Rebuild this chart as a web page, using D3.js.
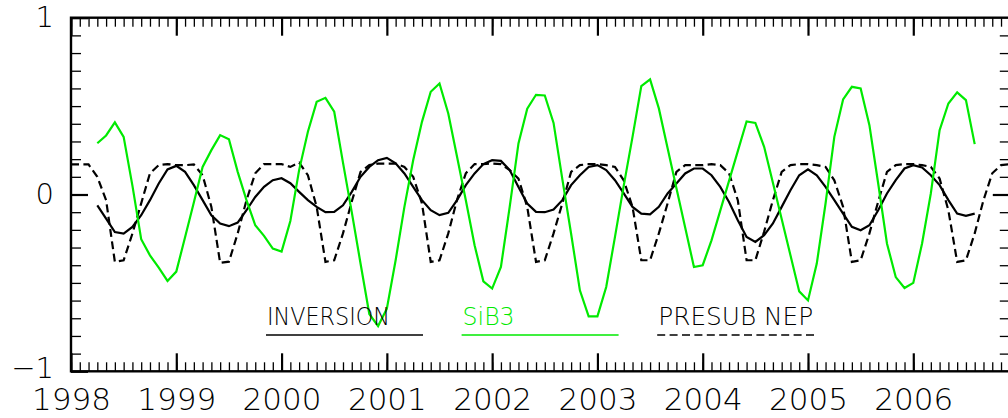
<!DOCTYPE html>
<html>
<head>
<meta charset="utf-8">
<script src="https://cdn.jsdelivr.net/npm/d3@7"></script>
<style>
  body { margin: 0; background: #fff; }
  text { font-family: "DejaVu Sans", sans-serif; font-weight: 200; }
</style>
</head>
<body>
<div id="main"></div>
<script>
// monthly values, index 0 = Jan 1998
const START_YEAR = 1998;
const inversionStart = 3;
const sib3Start = 3;
const presubStart = 0;

const inversion = [
  -0.061, -0.136, -0.212, -0.221, -0.183, -0.117, -0.032, 0.062, 0.142,
  0.162, 0.128, 0.053, -0.032, -0.117, -0.164, -0.179, -0.159, -0.089, -0.014, 0.043, 0.081,
  0.092, 0.064, 0.015, -0.032, -0.070, -0.100, -0.098, -0.061, 0.015, 0.100, 0.156, 0.194,
  0.207, 0.176, 0.119, 0.043, -0.032, -0.089, -0.117, -0.104, -0.032, 0.053, 0.119, 0.172,
  0.194, 0.190, 0.138, 0.043, -0.051, -0.098, -0.100, -0.085, -0.032, 0.053, 0.109, 0.156,
  0.166, 0.138, 0.081, 0.006, -0.070, -0.108, -0.112, -0.070, 0.006, 0.062, 0.119, 0.147,
  0.147, 0.109, 0.043, -0.042, -0.146, -0.240, -0.268, -0.230, -0.164, -0.070, 0.024, 0.109,
  0.142, 0.109, 0.043, -0.032, -0.108, -0.183, -0.202, -0.174, -0.089, 0.006, 0.081, 0.147,
  0.166, 0.153, 0.109, 0.053, -0.032, -0.108, -0.121, -0.108
];

const sib3 = [
  0.290, 0.334, 0.408, 0.326, 0.050, -0.253, -0.344, -0.414, -0.489,
  -0.436, -0.242, -0.045, 0.156, 0.251, 0.336, 0.313, 0.128, -0.032, -0.174, -0.234, -0.306,
  -0.323, -0.150, 0.138, 0.355, 0.524, 0.547, 0.468, 0.180, -0.100, -0.390, -0.676, -0.744,
  -0.646, -0.372, -0.070, 0.194, 0.411, 0.581, 0.628, 0.458, 0.213, -0.032, -0.287, -0.491,
  -0.532, -0.410, -0.070, 0.289, 0.485, 0.564, 0.560, 0.405, 0.087, -0.222, -0.542, -0.689,
  -0.689, -0.523, -0.240, 0.050, 0.326, 0.613, 0.651, 0.487, 0.262, 0.037, -0.187, -0.410,
  -0.400, -0.259, -0.091, 0.077, 0.245, 0.413, 0.405, 0.270, 0.066, -0.138, -0.344, -0.548,
  -0.599, -0.391, -0.051, 0.326, 0.538, 0.609, 0.600, 0.392, 0.062, -0.277, -0.467, -0.529,
  -0.500, -0.277, 0.006, 0.364, 0.515, 0.578, 0.534, 0.285
];

const presubNep = [
  0.170, 0.170, 0.170, 0.100, -0.032, -0.381, -0.372, -0.221, -0.050, 0.120, 0.166, 0.172,
  0.166, 0.166, 0.170, 0.109, -0.070, -0.387, -0.380, -0.220, -0.032, 0.120, 0.172, 0.172,
  0.172, 0.156, 0.180, 0.109, -0.070, -0.381, -0.372, -0.220, -0.040, 0.128, 0.166, 0.175,
  0.175, 0.175, 0.156, 0.100, -0.050, -0.381, -0.372, -0.220, -0.030, 0.120, 0.172, 0.172,
  0.175, 0.172, 0.138, 0.090, -0.070, -0.381, -0.372, -0.220, -0.050, 0.128, 0.166, 0.172,
  0.172, 0.166, 0.156, 0.080, -0.070, -0.372, -0.372, -0.220, -0.050, 0.128, 0.166, 0.166,
  0.166, 0.172, 0.166, 0.120, -0.032, -0.372, -0.372, -0.210, -0.032, 0.128, 0.166, 0.172,
  0.172, 0.166, 0.156, 0.080, -0.070, -0.381, -0.372, -0.220, -0.040, 0.128, 0.166, 0.172,
  0.172, 0.166, 0.156, 0.090, -0.090, -0.381, -0.372, -0.220, -0.032, 0.120, 0.166, 0.172
];

const yearLabels = ['1998', '1999', '2000', '2001', '2002', '2003', '2004', '2005', '2006'];
const yLabels = [-1, 0, 1];
const legendNames = ['INVERSION', 'SiB3', 'PRESUB NEP'];

const width = 1008, height = 418;
const margin = { top: 17.7, left: 71, bottom: 418 - 371.3, right: 1008 - 1009.8 };

const svg = d3.select('#main').append('svg')
  .attr('width', width)
  .attr('height', height);

const x = d3.scaleLinear()
  .domain([START_YEAR, 2006 + 11 / 12])
  .range([margin.left, width - margin.right]);
const y = d3.scaleLinear()
  .domain([-1, 1])
  .range([height - margin.bottom, margin.top]);

const toPoints = (vals, start) => vals.map((v, i) => [START_YEAR + (start + i) / 12, v]);

const monthTicks = d3.range(0, 108).map(m => START_YEAR + m / 12).filter(t => t <= x.domain()[1] + 1e-6);
const yearTicks = yearLabels.map(Number);
const yMinor = d3.range(-9, 10).map(i => i / 10).filter(v => v !== 0);

svg.append('clipPath').attr('id', 'plot')
  .append('rect')
  .attr('x', x.range()[0]).attr('y', y.range()[1])
  .attr('width', x.range()[1] - x.range()[0])
  .attr('height', y.range()[0] - y.range()[1]);

function styleTicks(g, w) {
  g.select('.domain').remove();
  g.selectAll('line').attr('stroke', '#000').attr('stroke-width', w);
}

// bottom ticks
svg.append('g').attr('transform', `translate(0,${y(-1)})`)
  .call(d3.axisTop(x).tickValues(monthTicks).tickSize(9).tickFormat(''))
  .call(g => styleTicks(g, 1.3));
svg.append('g').attr('transform', `translate(0,${y(-1)})`)
  .call(d3.axisBottom(x).tickValues(yearTicks).tickSize(-18).tickPadding(17).tickFormat(d3.format('d')))
  .call(g => styleTicks(g, 2.2))
  .call(g => g.selectAll('text').attr('font-size', 31).attr('fill', '#000')
    .attr('font-family', '"DejaVu Sans", sans-serif'));

// top ticks
svg.append('g').attr('transform', `translate(0,${y(1)})`)
  .call(d3.axisBottom(x).tickValues(monthTicks).tickSize(9).tickFormat(''))
  .call(g => styleTicks(g, 1.3));
svg.append('g').attr('transform', `translate(0,${y(1)})`)
  .call(d3.axisBottom(x).tickValues(yearTicks).tickSize(18).tickFormat(''))
  .call(g => styleTicks(g, 2.2));

// left ticks
svg.append('g').attr('transform', `translate(${x.range()[0]},0)`)
  .call(d3.axisRight(y).tickValues(yMinor).tickSize(10).tickFormat(''))
  .call(g => styleTicks(g, 1.3));
svg.append('g').attr('transform', `translate(${x.range()[0]},0)`)
  .call(d3.axisLeft(y).tickValues(yLabels).tickSize(-17).tickPadding(17)
    .tickFormat(d => d < 0 ? '\u2212' + Math.abs(d) : String(d)))
  .call(g => styleTicks(g, 2.2))
  .call(g => g.selectAll('text').attr('font-size', 29).attr('fill', '#000')
    .attr('font-family', '"DejaVu Sans", sans-serif')
    .attr('dy', d => d < 0 ? '0.22em' : '0.32em'));

// right ticks
svg.append('g').attr('transform', `translate(${x.range()[1]},0)`)
  .call(d3.axisLeft(y).tickValues(yMinor).tickSize(10).tickFormat(''))
  .call(g => styleTicks(g, 1.3));
svg.append('g').attr('transform', `translate(${x.range()[1]},0)`)
  .call(d3.axisLeft(y).tickValues([0]).tickSize(17).tickFormat(''))
  .call(g => styleTicks(g, 2.2));

// frame
svg.append('rect')
  .attr('x', x.range()[0]).attr('y', y.range()[1])
  .attr('width', x.range()[1] - x.range()[0])
  .attr('height', y.range()[0] - y.range()[1])
  .attr('fill', 'none').attr('stroke', '#000').attr('stroke-width', 2.4);

const line = d3.line().x(d => x(d[0])).y(d => y(d[1]));

const series = [
  { name: legendNames[0], pts: toPoints(inversion, inversionStart), color: '#000', dash: null, textLen: 123 },
  { name: legendNames[1], pts: toPoints(sib3, sib3Start), color: '#00ea00', dash: null, textLen: 52 },
  { name: legendNames[2], pts: toPoints(presubNep, presubStart), color: '#000', dash: '8,4.4', textLen: 155 }
];

const plot = svg.append('g').attr('clip-path', 'url(#plot)');
plot.selectAll('path.series')
  .data([series[2], series[0], series[1]])
  .enter().append('path')
  .attr('class', 'series')
  .attr('d', d => line(d.pts))
  .attr('fill', 'none')
  .attr('stroke', d => d.color)
  .attr('stroke-width', 2.2)
  .attr('stroke-dasharray', d => d.dash);

// legend
const legend = svg.append('g').attr('transform', 'translate(266,0)');
const items = legend.selectAll('g')
  .data(series)
  .enter().append('g')
  .attr('transform', (d, i) => `translate(${i * 195.6},0)`);
items.append('text')
  .attr('x', 1).attr('y', 324.5)
  .attr('font-size', 24)
  .attr('textLength', d => d.textLen)
  .attr('lengthAdjust', 'spacingAndGlyphs')
  .attr('fill', d => d.color)
  .text(d => d.name);
items.append('line')
  .attr('x1', 0).attr('x2', 157)
  .attr('y1', 335).attr('y2', 335)
  .attr('stroke', d => d.color)
  .attr('stroke-width', 1.4)
  .attr('stroke-dasharray', d => d.dash);
</script>
</body>
</html>
